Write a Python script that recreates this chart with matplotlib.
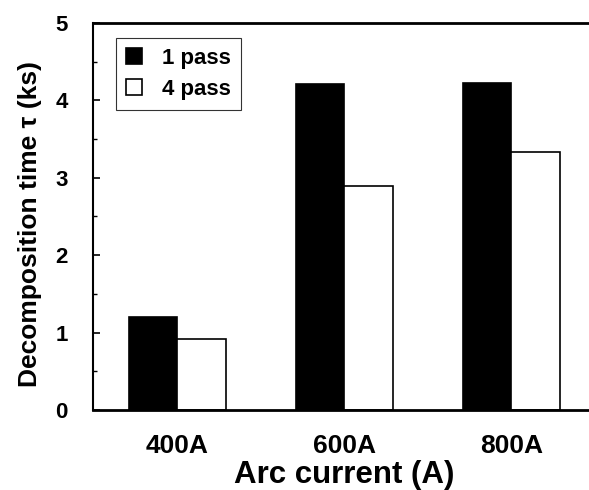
import matplotlib
matplotlib.use("Agg")
import matplotlib.pyplot as plt
import numpy as np

categories = ["400A", "600A", "800A"]
pass1 = [1.20, 4.21, 4.23]
pass4 = [0.92, 2.89, 3.33]
series_labels = ["1 pass", "4 pass"]

plt.rcParams['font.family'] = ['Liberation Sans', 'DejaVu Sans']
plt.rcParams['font.weight'] = 'bold'

fig = plt.figure(figsize=(5.89, 4.90), dpi=100)
ax = fig.add_axes([93/589, 80/490, 1 - 93/589 + 0.01, (410-23)/490])

x = np.arange(len(categories))
w = 0.29
ax.bar(x - w/2, pass1, w, color='black', edgecolor='black', linewidth=1.2, label=series_labels[0])
ax.bar(x + w/2, pass4, w, color='white', edgecolor='black', linewidth=1.2, label=series_labels[1])

ax.set_xlim(-0.505, 2.5)
ax.set_ylim(0, 5)
ax.set_xticks(x)
ax.set_xticklabels(categories, fontsize=19, fontweight='bold')
ax.set_yticks(range(6))
ax.set_yticks(np.arange(0.5, 5, 1), minor=True)
ax.tick_params(axis='y', which='major', direction='in', length=5, width=1.2, labelsize=16, pad=18)
ax.tick_params(axis='y', which='minor', direction='in', length=3, width=1.0)
ax.tick_params(axis='x', length=0, pad=17)
for lab in ax.get_yticklabels():
    lab.set_fontweight('bold')

ax.spines['right'].set_visible(False)
ax.spines['top'].set_linewidth(2)
ax.spines['bottom'].set_linewidth(2)
ax.spines['left'].set_linewidth(1.5)

ax.set_xlabel("Arc current (A)", fontsize=22.5, fontweight='bold', labelpad=2)
ax.set_ylabel("Decomposition time τ (ks)", fontsize=19, fontweight='bold')
ax.yaxis.set_label_coords(-0.102, 0.48)

leg = ax.legend(loc='upper left', bbox_to_anchor=(0.046, 0.962), fontsize=16, frameon=True,
                fancybox=False, edgecolor='black', handlelength=0.7, handleheight=0.7,
                handletextpad=0.9, borderpad=0.45, labelspacing=0.45, borderaxespad=0)
leg.get_frame().set_linewidth(0.8)
for t in leg.get_texts():
    t.set_fontweight('bold')

fig.savefig("out.png", dpi=100)
